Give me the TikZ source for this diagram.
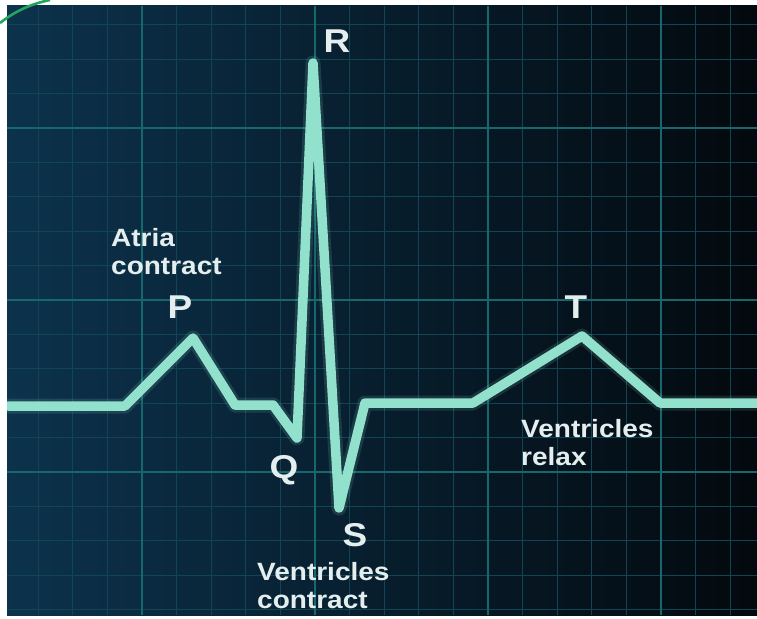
\documentclass[tikz,border=0pt]{standalone}
\usepackage{fontspec}
\setmainfont{Liberation Sans}
\newfontfamily\labfont[FakeStretch=1.12]{Liberation Sans}
\definecolor{bgL}{RGB}{12,50,76}
\definecolor{bgM}{RGB}{6,24,38}
\definecolor{bgR}{RGB}{3,9,14}
\definecolor{gridc}{RGB}{16,70,84}
\definecolor{gridb}{RGB}{22,104,108}
\definecolor{tracec}{RGB}{145,225,205}
\definecolor{textc}{RGB}{228,238,238}
\definecolor{arcc}{RGB}{35,165,95}
\tikzset{
  minorline/.style={draw=gridc, line width=1.3pt},
  majorline/.style={draw=gridb, line width=2.2pt},
  ecgline/.style={draw=tracec, line width=9.5pt, line join=round, line cap=round},
  ecgglow/.style={draw=tracec, line width=15pt, line join=round, line cap=round, opacity=0.14},
  peaklabel/.style={text=textc, font=\labfont\bfseries\fontsize{33}{36}\selectfont, inner sep=0pt},
  notelabel/.style={text=textc, font=\labfont\bfseries\fontsize{25}{28.5}\selectfont, inner sep=0pt, align=left, anchor=north west}
}
\begin{document}
\begin{tikzpicture}[x=1pt,y=-1pt]
\useasboundingbox (0,0) rectangle (757,618);
\fill[white] (0,0) rectangle (757,618);
% screen background
\shade[left color=bgL, middle color=bgM, right color=bgR] (7,6) rectangle (757,615);
% grid
\begin{scope}
\clip (7,6) rectangle (757,615);
\foreach \i in {-3,...,17} {
  \draw[minorline] ({142+34.6*\i},6) -- ({142+34.6*\i},615);
}
\foreach \j in {-3,...,14} {
  \draw[minorline] (7,{128+34.4*\j}) -- (757,{128+34.4*\j});
}
\foreach \i in {0,5,10,15} {
  \draw[majorline] ({142+34.6*\i},6) -- ({142+34.6*\i},615);
}
\foreach \j in {0,5,10} {
  \draw[majorline] (7,{128+34.4*\j}) -- (757,{128+34.4*\j});
}
% ECG trace
\coordinate (s0) at (8,406);
\coordinate (pa) at (125,406);
\coordinate (pP) at (193,338);
\coordinate (pb) at (235,405);
\coordinate (pc) at (273,405);
\coordinate (pQ) at (297,438);
\coordinate (pR) at (313,63);
\coordinate (pS) at (339,508);
\coordinate (pd) at (365,403);
\coordinate (pe) at (473,403);
\coordinate (pT) at (582,336);
\coordinate (pf) at (660,403);
\coordinate (pg) at (760,403);
\draw[ecgglow] (s0) -- (pa) -- (pP) -- (pb) -- (pc) -- (pQ) -- (pR) -- (pS) -- (pd) -- (pe) -- (pT) -- (pf) -- (pg);
\draw[ecgline] (s0) -- (pa) -- (pP) -- (pb) -- (pc) -- (pQ) -- (pR) -- (pS) -- (pd) -- (pe) -- (pT) -- (pf) -- (pg);
\end{scope}
% labels
\node[peaklabel] (lR) at (337,41) {R};
\node[peaklabel] (lP) at (180,307) {P};
\node[peaklabel] (lQ) at (284,470) {Q};
\node[peaklabel] (lS) at (355,535) {S};
\node[peaklabel] (lT) at (576,307) {T};
\node[notelabel] (atria) at (111,228) {Atria\\contract};
\node[notelabel] (vcon) at (257,562) {Ventricles\\contract};
\node[notelabel] (vrel) at (521,419) {Ventricles\\relax};
% green arc at top-left
\draw[arcc, line width=2.6pt] (0,23) .. controls (14,12) and (30,4) .. (50,0);
\end{tikzpicture}
\end{document}
